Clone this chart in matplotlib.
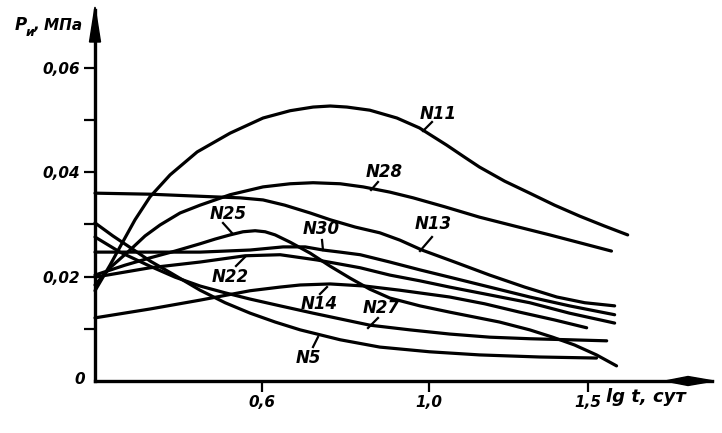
import numpy as np
import matplotlib
matplotlib.use("Agg")
import matplotlib.pyplot as plt
from matplotlib.patches import Polygon
from matplotlib.lines import Line2D

# ---------------- data (x = lg t, y = P, MPa) ----------------
n11_x = [0.200, 0.236, 0.260, 0.296, 0.332, 0.380, 0.445, 0.524, 0.603, 0.668, 0.723, 0.764, 0.804,
         0.859, 0.924, 0.978, 1.057, 1.113, 1.160, 1.239, 1.318, 1.396, 1.475, 1.553, 1.626]
n11_y = [0.0173, 0.0222, 0.0257, 0.0309, 0.0353, 0.0395, 0.0439, 0.0475, 0.0504, 0.0518, 0.0525, 0.0527, 0.0525,
         0.0519, 0.0504, 0.0485, 0.0452, 0.0429, 0.0410, 0.0383, 0.0360, 0.0337, 0.0316, 0.0297, 0.0280]

n28_x = [0.200, 0.236, 0.284, 0.320, 0.356, 0.404, 0.452, 0.524, 0.603, 0.668, 0.723, 0.788, 0.843,
         0.907, 0.963, 1.050, 1.160, 1.270, 1.381, 1.475, 1.575]
n28_y = [0.0184, 0.0217, 0.0251, 0.0278, 0.0299, 0.0322, 0.0337, 0.0357, 0.0372, 0.0378, 0.0380, 0.0378, 0.0372,
         0.0362, 0.0351, 0.0334, 0.0314, 0.0297, 0.0280, 0.0265, 0.0249]

n13_x = [0.200, 0.332, 0.483, 0.548, 0.603, 0.655, 0.716, 0.764, 0.824, 0.883, 0.931, 0.984,
         1.082, 1.192, 1.302, 1.403, 1.491, 1.585]
n13_y = [0.0360, 0.0358, 0.0353, 0.0351, 0.0347, 0.0337, 0.0322, 0.0309, 0.0295, 0.0284, 0.0270, 0.0251,
         0.0228, 0.0203, 0.0180, 0.0161, 0.0150, 0.0144]

n25_x = [0.200, 0.272, 0.332, 0.392, 0.452, 0.488, 0.524, 0.555, 0.584, 0.608, 0.632, 0.668, 0.716,
         0.764, 0.812, 0.859, 0.907, 0.979, 1.066, 1.223, 1.318, 1.390, 1.459, 1.528, 1.591]
n25_y = [0.0203, 0.0222, 0.0236, 0.0249, 0.0263, 0.0272, 0.0280, 0.0286, 0.0288, 0.0286, 0.0280, 0.0266, 0.0245,
         0.0220, 0.0197, 0.0176, 0.0159, 0.0144, 0.0132, 0.0113, 0.0098, 0.0084, 0.0069, 0.0050, 0.0029]

n30_x = [0.200, 0.332, 0.452, 0.572, 0.651, 0.704, 0.747, 0.788, 0.836, 0.907, 0.979, 1.066,
         1.192, 1.318, 1.443, 1.585]
n30_y = [0.0247, 0.0247, 0.0247, 0.0251, 0.0257, 0.0257, 0.0251, 0.0247, 0.0242, 0.0228, 0.0213, 0.0199,
         0.0180, 0.0161, 0.0144, 0.0127]

n22_x = [0.200, 0.332, 0.452, 0.560, 0.644, 0.732, 0.788, 0.836, 0.907, 0.979, 1.066, 1.192,
         1.318, 1.443, 1.585]
n22_y = [0.0199, 0.0217, 0.0228, 0.0240, 0.0242, 0.0232, 0.0224, 0.0217, 0.0203, 0.0192, 0.0180, 0.0165,
         0.0150, 0.0130, 0.0111]

n14_x = [0.200, 0.332, 0.452, 0.572, 0.644, 0.692, 0.764, 0.847, 0.931, 1.066, 1.176, 1.286, 1.396, 1.497]
n14_y = [0.0121, 0.0138, 0.0155, 0.0173, 0.0180, 0.0184, 0.0186, 0.0182, 0.0174, 0.0161, 0.0148, 0.0132,
         0.0117, 0.0102]

n27_x = [0.200, 0.260, 0.332, 0.392, 0.452, 0.512, 0.572, 0.644, 0.723, 0.788, 0.859, 0.955,
         1.066, 1.192, 1.318, 1.443, 1.560]
n27_y = [0.0276, 0.0247, 0.0220, 0.0199, 0.0182, 0.0169, 0.0157, 0.0144, 0.0130, 0.0119, 0.0107, 0.0098,
         0.0090, 0.0084, 0.0081, 0.0079, 0.0077]

n5_x = [0.200, 0.243, 0.286, 0.332, 0.382, 0.452, 0.512, 0.572, 0.632, 0.692, 0.788, 0.883,
        1.003, 1.160, 1.349, 1.528]
n5_y = [0.0303, 0.0278, 0.0255, 0.0230, 0.0207, 0.0174, 0.0150, 0.0130, 0.0113, 0.0098, 0.0079, 0.0065,
        0.0056, 0.0050, 0.0046, 0.0044]

series_names = ["N11", "N28", "N13", "N25", "N30", "N22", "N14", "N27", "N5"]
series_x = [n11_x, n28_x, n13_x, n25_x, n30_x, n22_x, n14_x, n27_x, n5_x]
series_y = [n11_y, n28_y, n13_y, n25_y, n30_y, n22_y, n14_y, n27_y, n5_y]

x_ticks = [0.6, 1.0, 1.5]
x_tick_labels = ["0,6", "1,0", "1,5"]
y_ticks = [0.02, 0.04, 0.06]
y_tick_labels = ["0,02", "0,04", "0,06"]
y_minor = [0.01, 0.03, 0.05]

# ---------------- hand-drawn (non-uniform) x scale ----------------
K = 0.7626


def fwd(x):
    x = np.asarray(x, float)
    return np.where(x <= 1.0, x, 1.0 + (x - 1.0) * K)


def inv(p):
    p = np.asarray(p, float)
    return np.where(p <= 1.0, p, 1.0 + (p - 1.0) / K)


W, H = 722, 433
fig = plt.figure(figsize=(W / 100, H / 100), dpi=100)
ax = fig.add_axes([95 / W, 1 - 381 / H, (712 - 95) / W, (381 - 10) / H])
ax.set_xscale("function", functions=(fwd, inv))
ax.set_xlim(0.2, float(inv(1.6796)))
ax.set_ylim(0, 0.0711)

FONT = dict(family="DejaVu Sans", weight="bold", style="italic")

for xs, ys in zip(series_x, series_y):
    ax.plot(xs, ys, color="black", lw=2.3, solid_capstyle="round",
            solid_joinstyle="round", clip_on=False)

for s in ("top", "right"):
    ax.spines[s].set_visible(False)
for s in ("left", "bottom"):
    ax.spines[s].set_linewidth(2.4)

ax.set_xticks(x_ticks)
ax.set_xticklabels(x_tick_labels, fontsize=11, **FONT)
ax.set_yticks(y_ticks)
ax.set_yticklabels(y_tick_labels, fontsize=11, **FONT)
ax.set_yticks(y_minor, minor=True)
ax.xaxis.set_minor_locator(matplotlib.ticker.NullLocator())
ax.tick_params(axis="y", which="both", direction="out", length=8, width=1.6, pad=3)
ax.tick_params(axis="x", which="major", direction="out", length=8, width=1.6, pad=2)


def ftext(x, y, s, size=12, ha="center", va="center"):
    fig.text(x / W, 1 - y / H, s, fontsize=size, ha=ha, va=va, **FONT)


def fline(x1, y1, x2, y2, lw=1.6):
    fig.add_artist(Line2D([x1 / W, x2 / W], [1 - y1 / H, 1 - y2 / H],
                          lw=lw, color="black", transform=fig.transFigure))


def fpoly(pts):
    fig.add_artist(Polygon([(x / W, 1 - y / H) for x, y in pts], closed=True,
                           facecolor="black", edgecolor="black", lw=1,
                           transform=fig.transFigure))


# "0" at origin
ftext(80, 380, "0", size=11)

# axis arrows
fpoly([(95, 7), (89.5, 42), (100.5, 42)])
fpoly([(665, 381), (688, 376.5), (714, 381), (688, 385.5)])

# axis titles
ftext(21, 25, "P", size=12)
ftext(30, 33, "и", size=9)
ftext(34, 25, ", МПа", size=11, ha="left")
ftext(606, 397, "lg t, сут", size=13, ha="left")

# curve labels
label_pos = {
    "N11": (438, 114), "N28": (384, 172), "N13": (433, 224), "N25": (228, 214),
    "N30": (321, 229), "N22": (230, 277), "N14": (319, 304), "N27": (381, 308),
    "N5": (308, 358),
}
pointers = {
    "N11": (432, 122, 423, 131), "N28": (378, 182, 371, 190),
    "N13": (432, 237, 420, 251), "N30": (322, 240, 323, 250),
    "N14": (320, 294, 327, 287), "N27": (378, 318, 368, 328),
    "N5": (313, 347, 318, 337), "N25": (223, 223, 232, 233),
    "N22": (236, 266, 245, 257),
}
for name in series_names:
    x, y = label_pos[name]
    ftext(x, y, name, size=12)
    fline(*pointers[name])

fig.savefig("out.png", dpi=100, facecolor="white")
